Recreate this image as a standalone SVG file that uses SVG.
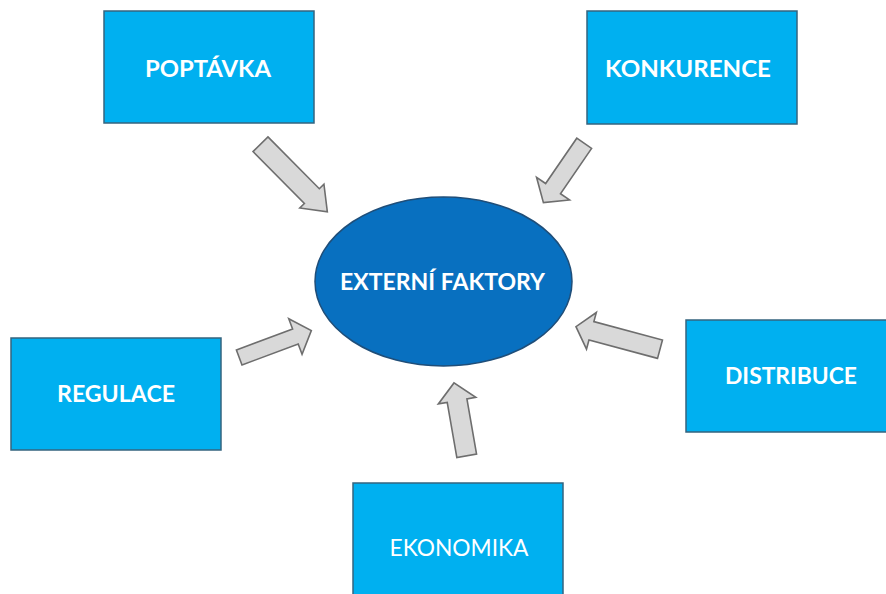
<svg xmlns="http://www.w3.org/2000/svg" width="886" height="594" viewBox="0 0 886 594">
<style>
.box{fill:#00B0F0;stroke:#35647F;stroke-width:1.5}
.ell{fill:#0870C0;stroke:#1F4E79;stroke-width:1.5}
.arr{fill:#D9D9D9;stroke:#6E6E6E;stroke-width:1.6;stroke-linejoin:miter}
.t{font-family:Lato,"Open Sans","Liberation Sans",sans-serif;font-weight:bold;font-size:23px;fill:#FFFFFF;text-anchor:middle}
.r{font-weight:normal}
</style>
<rect width="886" height="594" fill="#FFFFFF"/>
<g id="connectors">
<polygon class="arr" transform="translate(260.5,144.2) rotate(45.3)" points="0,-10.5 73,-10.5 73,-17 95,0 73,17 73,10.5 0,10.5"/>
<polygon class="arr" transform="translate(584.2,143.3) rotate(124.5)" points="0,-9 55,-9 55,-20 72,0 55,20 55,9 0,9"/>
<polygon class="arr" transform="translate(239.2,357.5) rotate(-20.5)" points="0,-8 60,-8 60,-19 77,0 60,19 60,8 0,8"/>
<polygon class="arr" transform="translate(660,349.2) rotate(195)" points="0,-9.5 71,-9.5 71,-19 87,0 71,19 71,9.5 0,9.5"/>
<polygon class="arr" transform="translate(466.7,455.8) rotate(-99.9)" points="0,-10 56,-10 56,-19 74,0 56,19 56,10 0,10"/>
</g>
<g id="externi-faktory">
<ellipse class="ell" cx="443.5" cy="281.5" rx="128.5" ry="84.5"/>
<text class="t" x="442.5" y="289.5" textLength="205" lengthAdjust="spacingAndGlyphs">EXTERNÍ FAKTORY</text>
</g>
<g id="poptavka">
<rect class="box" x="104" y="11" width="210" height="112"/>
<text class="t" x="208" y="77" textLength="126" lengthAdjust="spacingAndGlyphs">POPTÁVKA</text>
</g>
<g id="konkurence">
<rect class="box" x="587" y="11" width="210" height="113"/>
<text class="t" x="688" y="76.5" textLength="166" lengthAdjust="spacingAndGlyphs">KONKURENCE</text>
</g>
<g id="regulace">
<rect class="box" x="11" y="338" width="210" height="112"/>
<text class="t" x="116" y="402" textLength="118" lengthAdjust="spacingAndGlyphs">REGULACE</text>
</g>
<g id="distribuce">
<rect class="box" x="686" y="320" width="210" height="112"/>
<text class="t" x="791" y="383.5" textLength="132" lengthAdjust="spacingAndGlyphs">DISTRIBUCE</text>
</g>
<g id="ekonomika">
<rect class="box" x="353" y="483" width="210" height="122"/>
<text class="t r" x="459" y="555.5" textLength="139" lengthAdjust="spacingAndGlyphs">EKONOMIKA</text>
</g>
</svg>
